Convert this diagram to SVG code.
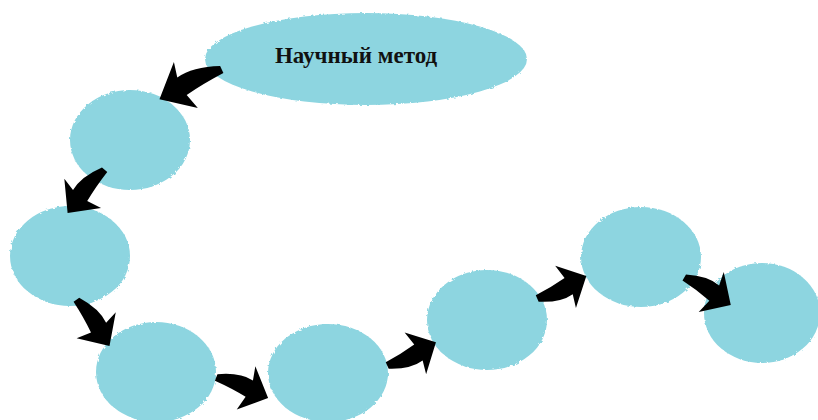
<svg xmlns="http://www.w3.org/2000/svg" xmlns:xlink="http://www.w3.org/1999/xlink" width="818" height="420" viewBox="0 0 818 420">
<style>
.blob{fill:#8dd5e0;filter:url(#rough)}
.arr{fill:#000}
.title{font-family:"Liberation Serif","Times New Roman",serif;font-weight:bold;font-size:23px;fill:#111}
</style>
<defs>
<filter id="rough" x="-5%" y="-5%" width="110%" height="110%">
<feTurbulence type="fractalNoise" baseFrequency="0.3" numOctaves="2" seed="3" result="n"/>
<feDisplacementMap in="SourceGraphic" in2="n" scale="3"/>
</filter>
<path id="arrow" d="M0,-4 Q22,-14 38,-11 L35,-25 L60,0 L33,22 L37,7 Q20,4 0,3 Z"/>
</defs>
<rect width="818" height="420" fill="#fff"/>
<g id="title-node">
<ellipse class="blob" cx="366" cy="59" rx="161" ry="46"/>
<text class="title" x="356" y="63" text-anchor="middle">Научный метод</text>
</g>
<g id="node1"><ellipse class="blob" cx="130" cy="140" rx="60" ry="50"/></g>
<g id="node2"><ellipse class="blob" cx="70" cy="256" rx="60" ry="50"/></g>
<g id="node3"><ellipse class="blob" cx="156" cy="372" rx="60" ry="50"/></g>
<g id="node4"><ellipse class="blob" cx="328" cy="373" rx="60" ry="49"/></g>
<g id="node5"><ellipse class="blob" cx="487" cy="320" rx="60" ry="50"/></g>
<g id="node6"><ellipse class="blob" cx="641" cy="257" rx="60" ry="50"/></g>
<g id="node7"><ellipse class="blob" cx="762" cy="313" rx="58" ry="50"/></g>
<g id="connectors" class="arr">
<use xlink:href="#arrow" transform="translate(222,70) rotate(155) scale(1.15,-1.1)"/>
<use xlink:href="#arrow" transform="translate(105,170) rotate(131) scale(0.95,-1)"/>
<use xlink:href="#arrow" transform="translate(76,300) rotate(54) scale(0.95,1)"/>
<use xlink:href="#arrow" transform="translate(216,378) rotate(21) scale(0.93,1)"/>
<use xlink:href="#arrow" transform="translate(387,365) rotate(-25) scale(0.9,-1)"/>
<use xlink:href="#arrow" transform="translate(537,298) rotate(-24) scale(0.9,-1)"/>
<use xlink:href="#arrow" transform="translate(684,278) rotate(30) scale(0.9,1)"/>
</g>
</svg>
